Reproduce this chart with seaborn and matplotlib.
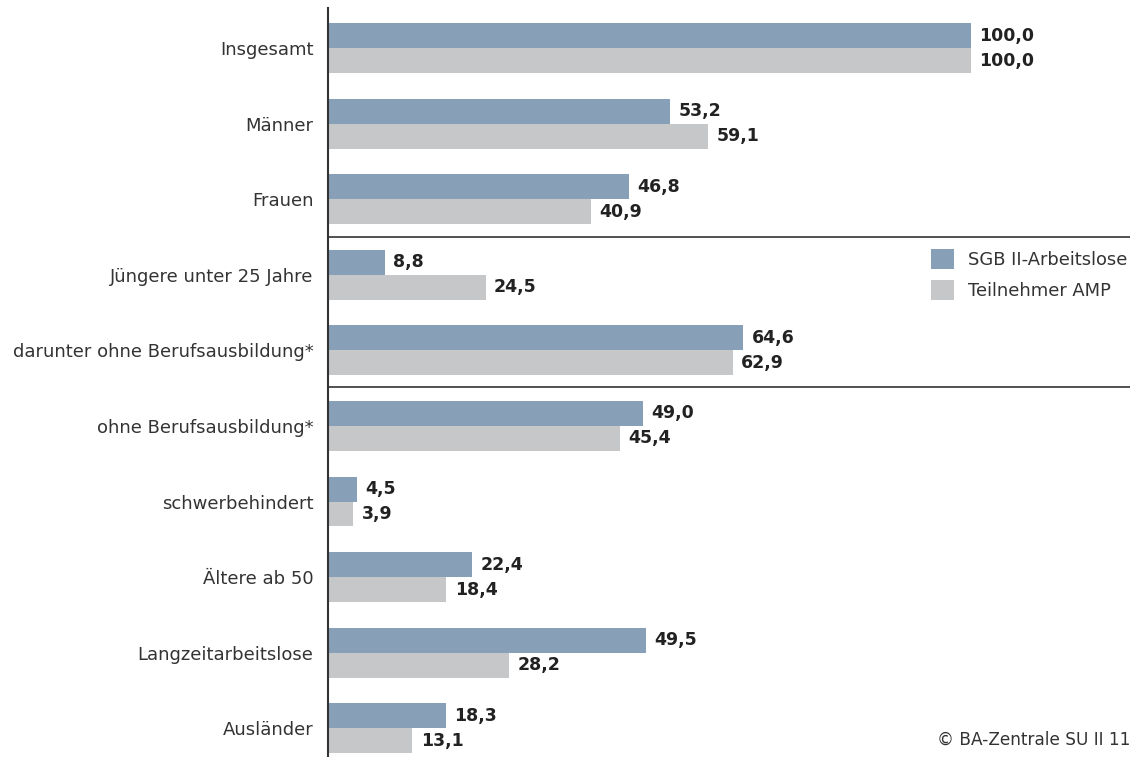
import matplotlib
matplotlib.use("Agg")
import matplotlib.pyplot as plt
import seaborn as sns
import pandas as pd
from matplotlib.patches import Patch

categories = ["Insgesamt", "Männer", "Frauen", "Jüngere unter 25 Jahre",
              "darunter ohne Berufsausbildung*", "ohne Berufsausbildung*",
              "schwerbehindert", "Ältere ab 50", "Langzeitarbeitslose", "Ausländer"]
sgb = [100.0, 53.2, 46.8, 8.8, 64.6, 49.0, 4.5, 22.4, 49.5, 18.3]
amp = [100.0, 59.1, 40.9, 24.5, 62.9, 45.4, 3.9, 18.4, 28.2, 13.1]
series = ["SGB II-Arbeitslose", "Teilnehmer AMP"]
colors = ["#87a0b7", "#c6c7c9"]

df = pd.DataFrame({
    "Kategorie": categories * 2,
    "Wert": sgb + amp,
    "Reihe": [series[0]] * len(categories) + [series[1]] * len(categories),
})

sns.set_theme(style="white")
plt.rcParams["font.family"] = ["DejaVu Sans"]

fig = plt.figure(figsize=(11.39, 7.57), dpi=100)
W, H = 1139, 757
x0, x1 = 328, 1130
y_top, y_bot = 8, 757
ax = fig.add_axes([x0 / W, 1 - y_bot / H, (x1 - x0) / W, (y_bot - y_top) / H])

sns.barplot(data=df, y="Kategorie", x="Wert", hue="Reihe", orient="h",
            palette=colors, width=0.66, ax=ax, legend=False, saturation=1,
            edgecolor="none")

for cont in ax.containers:
    labels = [f"{v:.1f}".replace(".", ",") for v in cont.datavalues]
    ax.bar_label(cont, labels=labels, padding=6, fontsize=12.5,
                 fontweight="bold", color="#222222")

ax.set_xlim(0, 124.7)
ax.set_ylim(9.38, -0.53)
ax.set_xlabel("")
ax.set_ylabel("")
ax.set_xticks([])
ax.tick_params(axis="y", length=0, pad=10.5, labelsize=13, labelcolor="#333333")
for s in ["top", "right", "bottom"]:
    ax.spines[s].set_visible(False)
ax.spines["left"].set_color("#333333")
ax.spines["left"].set_linewidth(1.5)

for yv in [2.5, 4.48]:
    ax.axhline(yv, color="#333333", linewidth=1.2)

handles = [Patch(facecolor=c, edgecolor="none", label=l) for c, l in zip(colors, series)]
ax.legend(handles=handles, loc="upper left", bbox_to_anchor=(931 / W, 1 - 249 / H),
          bbox_transform=fig.transFigure, frameon=False, fontsize=12.9,
          handlelength=1.3, handleheight=1.3, handletextpad=0.75, labelspacing=0.65,
          borderaxespad=0, borderpad=0, labelcolor="#333333")

fig.text(1130 / W, 1 - 740 / H, "© BA-Zentrale SU II 11", ha="right", va="center",
         fontsize=12.2, color="#333333")

fig.savefig("out.png", dpi=100)
